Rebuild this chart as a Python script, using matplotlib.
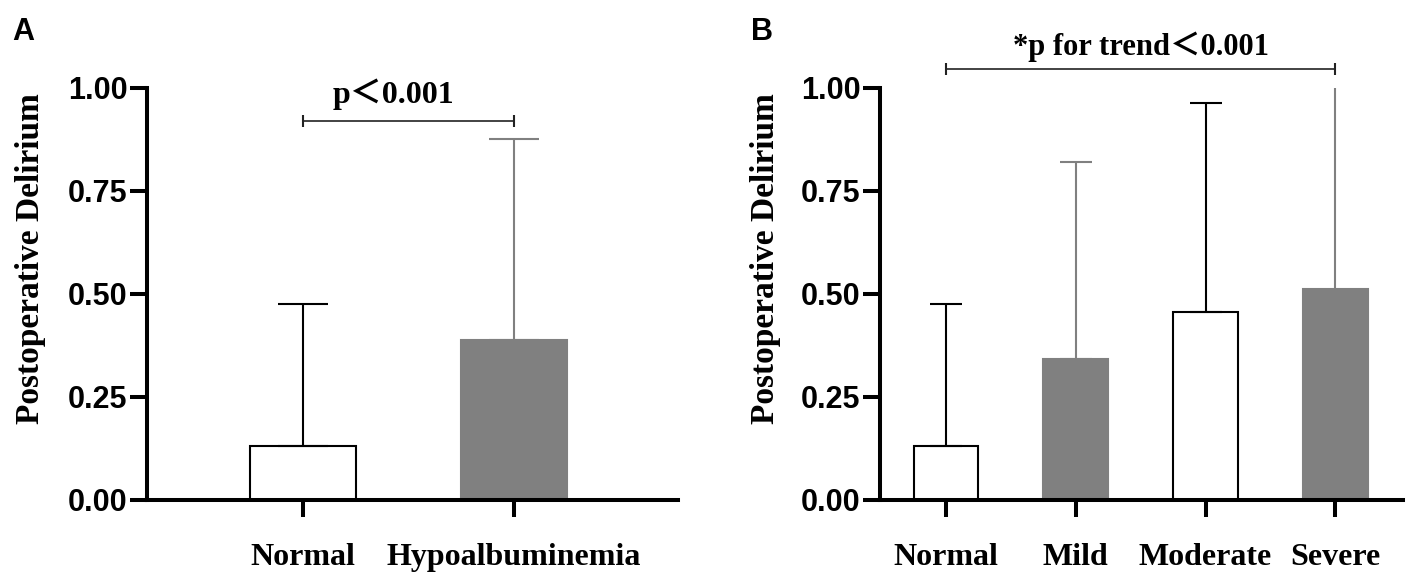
import matplotlib
matplotlib.use("Agg")
import matplotlib.pyplot as plt

# panel A
cats_a = ["Normal", "Hypoalbuminemia"]
mean_a = [0.132, 0.388]
upper_a = [0.476, 0.877]
fill_a = ["white", "#808080"]

# panel B
cats_b = ["Normal", "Mild", "Moderate", "Severe"]
mean_b = [0.132, 0.342, 0.456, 0.512]
upper_b = [0.476, 0.820, 0.963, 1.000]
fill_b = ["white", "#808080", "white", "#808080"]

p_text_a = "p\uff1c0.001"
p_text_b = "*p for trend\uff1c0.001"

serif = ["Liberation Serif", "Noto Sans CJK SC", "DejaVu Serif"]
sans = ["Liberation Sans", "DejaVu Sans"]


def draw_panel(ax, cats, means, uppers, fills, capsize, xlim):
    x = list(range(len(cats)))
    for i in x:
        grey = fills[i] != "white"
        edge = "#808080" if grey else "black"
        ax.bar(i, means[i], width=0.5, color=fills[i], edgecolor=edge,
               linewidth=1.5, zorder=2)
        # the severe whisker ends right at the top of the axis, no cap drawn
        cs = capsize if uppers[i] < 1.0 else 0
        ax.errorbar(i, means[i], yerr=[[0], [uppers[i] - means[i]]],
                    color=edge, elinewidth=1.5, capsize=cs, capthick=1.5,
                    fmt="none", zorder=3, clip_on=False)
    ax.set_xlim(*xlim)
    ax.set_ylim(0, 1.0)
    ax.set_yticks([0, 0.25, 0.5, 0.75, 1.0])
    ax.set_yticklabels(["0.00", "0.25", "0.50", "0.75", "1.00"],
                       family=sans, fontweight="bold", fontsize=22)
    ax.set_xticks(x)
    ax.set_xticklabels(cats, family=serif, fontweight="bold", fontsize=23)
    ax.tick_params(axis="y", length=12, width=2.9, pad=2)
    ax.tick_params(axis="x", length=12, width=2.9, pad=19)
    for s in ["top", "right"]:
        ax.spines[s].set_visible(False)
    for s in ["left", "bottom"]:
        ax.spines[s].set_linewidth(2.9)
    ax.set_ylabel("Postoperative Delirium", family=serif, fontweight="bold",
                  fontsize=24)
    ax.yaxis.set_label_coords(-0.19, 0.585)


def bracket(ax, x0, x1, y, label, tx, ty, size):
    ax.plot([x0, x1], [y, y], color="#222222", lw=1.2, clip_on=False)
    ax.plot([x0, x1], [y, y], ls="none", marker="|", ms=9, mew=1.5,
            color="#222222", clip_on=False)
    ax.text(tx, ty, label, ha="center", va="baseline",
            family=serif, fontweight="bold", fontsize=size)


fig = plt.figure(figsize=(14.17, 5.85), dpi=100)
ax1 = fig.add_axes([0.1037, 0.1453, 0.3747, 0.7043])
ax2 = fig.add_axes([0.6210, 0.1453, 0.3690, 0.7043])

draw_panel(ax1, cats_a, mean_a, upper_a, fill_a, 18, (-0.739, 1.777))
draw_panel(ax2, cats_b, mean_b, upper_b, fill_b, 11.5, (-0.509, 3.52))

bracket(ax1, 0, 1, 0.92, p_text_a, 0.43, 0.964, 23)
bracket(ax2, 0, 3, 1.046, p_text_b, 1.5, 1.080, 22)

fig.text(12 / 1417, 1 - 40 / 585, "A", family=sans, fontweight="bold",
         fontsize=22, va="baseline")
fig.text(751 / 1417, 1 - 40 / 585, "B", family=sans, fontweight="bold",
         fontsize=22, va="baseline")

fig.savefig("out.png", dpi=100)
